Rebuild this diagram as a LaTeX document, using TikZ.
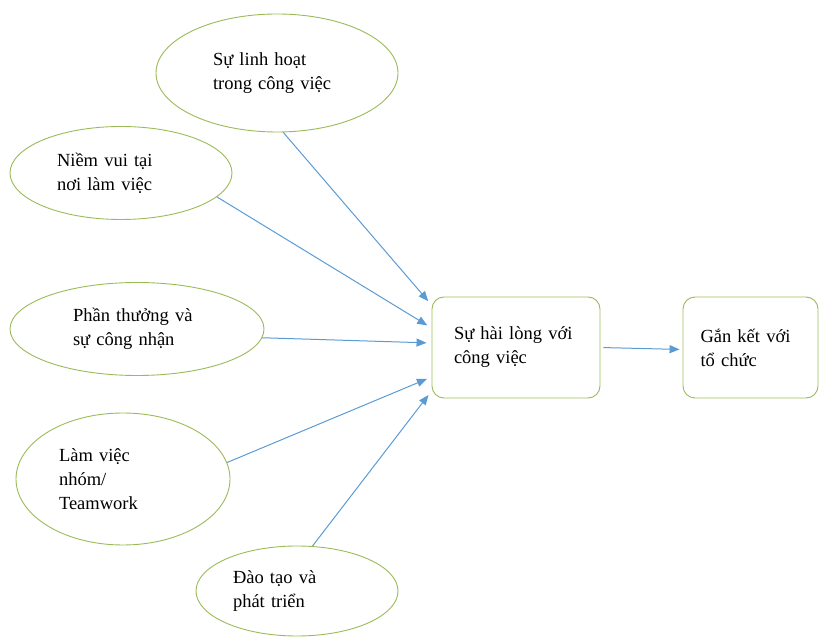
\documentclass[tikz,border=0pt]{standalone}
\usepackage{fontspec}
\setmainfont{Liberation Serif}
\usetikzlibrary{arrows.meta,shapes.geometric}
\definecolor{rimgreen}{HTML}{9BBB59}
\definecolor{linkblue}{HTML}{5B9BD5}

\begin{document}
\begin{tikzpicture}[x=1pt,y=1pt,
  factor/.style={ellipse, draw=rimgreen, line width=0.9pt, inner sep=0pt, text width=128pt, align=left, font=\fontsize{18.5}{24}\selectfont},
  outcome/.style={draw=rimgreen, line width=0.9pt, rounded corners=12pt, inner sep=0pt, align=left, font=\fontsize{18.5}{24}\selectfont},
  link/.style={linkblue, line width=1pt, -{Triangle[length=10pt,width=8pt]}, shorten >=5pt}]
\useasboundingbox (0,0) rectangle (819,637);
\node[factor, minimum width=242pt, minimum height=118pt] (flex) at (277,564) {Sự linh hoạt\\trong công việc};
\node[factor, minimum width=222pt, minimum height=93pt] (fun) at (121,464) {Niềm vui tại\\nơi làm việc};
\node[factor, minimum width=254pt, minimum height=93pt] (reward) at (137,308) {Phần thưởng và\\sự công nhận};
\node[factor, minimum width=214pt, minimum height=132pt] (team) at (123,158) {Làm việc\\nhóm/\\Teamwork};
\node[factor, minimum width=202pt, minimum height=90pt] (train) at (297,46) {Đào tạo và\\phát triển};
\node[outcome, text width=124pt, minimum width=168pt, minimum height=101pt] (jobsat) at (516,289.5) {Sự hài lòng với\\công việc};
\node[outcome, text width=100pt, minimum width=135pt, minimum height=101pt] (commit) at (750.5,289.5) {Gắn kết với\\tổ chức};
\draw[link] (flex.-84) -- ([yshift=42.5pt]jobsat.west);
\draw[link] (fun.-14) -- ([yshift=19.5pt]jobsat.west);
\draw[link] (reward.-4) -- ([yshift=4.5pt]jobsat.west);
\draw[link] (team.9) -- ([yshift=-29.5pt]jobsat.west);
\draw[link] (train.71) -- ([yshift=-43.5pt]jobsat.west);
\draw[link, shorten <=3pt, shorten >=3pt] (jobsat.east) -- ([yshift=-2pt]commit.west);
\end{tikzpicture}
\end{document}
